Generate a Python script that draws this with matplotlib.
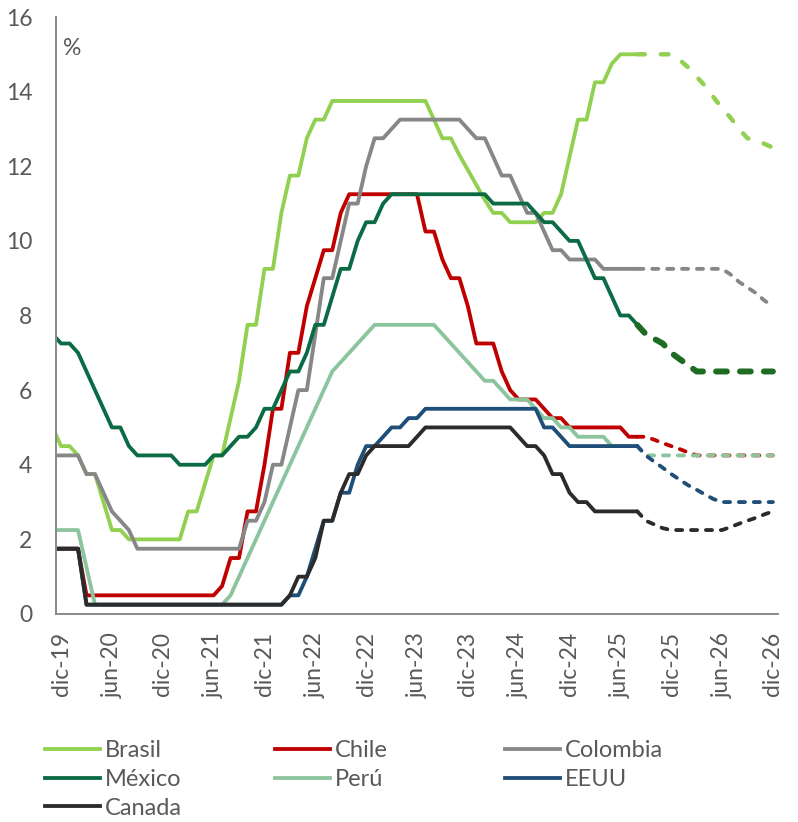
import numpy as np
import pandas as pd
import matplotlib
matplotlib.use("Agg")
import matplotlib.pyplot as plt
from matplotlib.lines import Line2D

plt.rcParams["font.family"] = ["Lato", "DejaVu Sans"]

# =========================
# Datos: tasa de politica monetaria (%), fin de mes
# nov-19 ... dic-26, proyeccion despues de ago-25
# =========================
meses = pd.period_range("2019-11", "2026-12", freq="M")
ultimo_dato = pd.Period("2025-08", freq="M")

brasil = [5.0, 4.5,
          4.5, 4.25, 3.75, 3.75, 3.0, 2.25, 2.25, 2.0, 2.0, 2.0, 2.0, 2.0,
          2.0, 2.0, 2.75, 2.75, 3.5, 4.25, 4.25, 5.25, 6.25, 7.75, 7.75, 9.25,
          9.25, 10.75, 11.75, 11.75, 12.75, 13.25, 13.25, 13.75, 13.75, 13.75, 13.75, 13.75,
          13.75, 13.75, 13.75, 13.75, 13.75, 13.75, 13.75, 13.25, 12.75, 12.75, 12.3, 11.9,
          11.5, 11.1, 10.75, 10.75, 10.5, 10.5, 10.5, 10.5, 10.75, 10.75, 11.25, 12.25,
          13.25, 13.25, 14.25, 14.25, 14.75, 15.0, 15.0, 15.0, 15.0, 15.0, 15.0, 15.0,
          14.85, 14.65, 14.4, 14.15, 13.85, 13.55, 13.3, 13.0, 12.75, 12.7, 12.6, 12.5]

chile = [1.75, 1.75,
         1.75, 1.75, 0.5, 0.5, 0.5, 0.5, 0.5, 0.5, 0.5, 0.5, 0.5, 0.5,
         0.5, 0.5, 0.5, 0.5, 0.5, 0.5, 0.75, 1.5, 1.5, 2.75, 2.75, 4.0,
         5.5, 5.5, 7.0, 7.0, 8.25, 9.0, 9.75, 9.75, 10.75, 11.25, 11.25, 11.25,
         11.25, 11.25, 11.25, 11.25, 11.25, 11.25, 10.25, 10.25, 9.5, 9.0, 9.0, 8.25,
         7.25, 7.25, 7.25, 6.5, 6.0, 5.75, 5.75, 5.75, 5.5, 5.25, 5.25, 5.0,
         5.0, 5.0, 5.0, 5.0, 5.0, 5.0, 4.75, 4.75, 4.75, 4.67, 4.58, 4.5,
         4.42, 4.33, 4.25, 4.25, 4.25, 4.25, 4.25, 4.25, 4.25, 4.25, 4.25, 4.25]

colombia = [4.25, 4.25,
            4.25, 4.25, 3.75, 3.75, 3.25, 2.75, 2.5, 2.25, 1.75, 1.75, 1.75, 1.75,
            1.75, 1.75, 1.75, 1.75, 1.75, 1.75, 1.75, 1.75, 1.75, 2.5, 2.5, 3.0,
            4.0, 4.0, 5.0, 6.0, 6.0, 7.5, 9.0, 9.0, 10.0, 11.0, 11.0, 12.0,
            12.75, 12.75, 13.0, 13.25, 13.25, 13.25, 13.25, 13.25, 13.25, 13.25, 13.25, 13.0,
            12.75, 12.75, 12.25, 11.75, 11.75, 11.25, 10.75, 10.75, 10.25, 9.75, 9.75, 9.5,
            9.5, 9.5, 9.5, 9.25, 9.25, 9.25, 9.25, 9.25, 9.25, 9.25, 9.25, 9.25,
            9.25, 9.25, 9.25, 9.25, 9.25, 9.25, 9.1, 8.9, 8.75, 8.6, 8.4, 8.25]

mexico = [7.5, 7.25,
          7.25, 7.0, 6.5, 6.0, 5.5, 5.0, 5.0, 4.5, 4.25, 4.25, 4.25, 4.25,
          4.25, 4.0, 4.0, 4.0, 4.0, 4.25, 4.25, 4.5, 4.75, 4.75, 5.0, 5.5,
          5.5, 6.0, 6.5, 6.5, 7.0, 7.75, 7.75, 8.5, 9.25, 9.25, 10.0, 10.5,
          10.5, 11.0, 11.25, 11.25, 11.25, 11.25, 11.25, 11.25, 11.25, 11.25, 11.25, 11.25,
          11.25, 11.25, 11.0, 11.0, 11.0, 11.0, 11.0, 10.75, 10.5, 10.5, 10.25, 10.0,
          10.0, 9.5, 9.0, 9.0, 8.5, 8.0, 8.0, 7.75, 7.5, 7.375, 7.25, 7.0,
          6.83, 6.67, 6.5, 6.5, 6.5, 6.5, 6.5, 6.5, 6.5, 6.5, 6.5, 6.5]

peru = [2.25, 2.25,
        2.25, 2.25, 1.25, 0.25, 0.25, 0.25, 0.25, 0.25, 0.25, 0.25, 0.25, 0.25,
        0.25, 0.25, 0.25, 0.25, 0.25, 0.25, 0.25, 0.5, 1.0, 1.5, 2.0, 2.5,
        3.0, 3.5, 4.0, 4.5, 5.0, 5.5, 6.0, 6.5, 6.75, 7.0, 7.25, 7.5,
        7.75, 7.75, 7.75, 7.75, 7.75, 7.75, 7.75, 7.75, 7.5, 7.25, 7.0, 6.75,
        6.5, 6.25, 6.25, 6.0, 5.75, 5.75, 5.75, 5.5, 5.25, 5.25, 5.0, 5.0,
        4.75, 4.75, 4.75, 4.75, 4.5, 4.5, 4.5, 4.5, 4.25, 4.25, 4.25, 4.25,
        4.25, 4.25, 4.25, 4.25, 4.25, 4.25, 4.25, 4.25, 4.25, 4.25, 4.25, 4.25]

eeuu = [1.75, 1.75,
        1.75, 1.75, 0.25, 0.25, 0.25, 0.25, 0.25, 0.25, 0.25, 0.25, 0.25, 0.25,
        0.25, 0.25, 0.25, 0.25, 0.25, 0.25, 0.25, 0.25, 0.25, 0.25, 0.25, 0.25,
        0.25, 0.25, 0.5, 0.5, 1.0, 1.75, 2.5, 2.5, 3.25, 3.25, 4.0, 4.5,
        4.5, 4.75, 5.0, 5.0, 5.25, 5.25, 5.5, 5.5, 5.5, 5.5, 5.5, 5.5,
        5.5, 5.5, 5.5, 5.5, 5.5, 5.5, 5.5, 5.5, 5.0, 5.0, 4.75, 4.5,
        4.5, 4.5, 4.5, 4.5, 4.5, 4.5, 4.5, 4.5, 4.25, 4.08, 3.92, 3.75,
        3.6, 3.45, 3.33, 3.2, 3.08, 3.0, 3.0, 3.0, 3.0, 3.0, 3.0, 3.0]

canada = [1.75, 1.75,
          1.75, 1.75, 0.25, 0.25, 0.25, 0.25, 0.25, 0.25, 0.25, 0.25, 0.25, 0.25,
          0.25, 0.25, 0.25, 0.25, 0.25, 0.25, 0.25, 0.25, 0.25, 0.25, 0.25, 0.25,
          0.25, 0.25, 0.5, 1.0, 1.0, 1.5, 2.5, 2.5, 3.25, 3.75, 3.75, 4.25,
          4.5, 4.5, 4.5, 4.5, 4.5, 4.75, 5.0, 5.0, 5.0, 5.0, 5.0, 5.0,
          5.0, 5.0, 5.0, 5.0, 5.0, 4.75, 4.5, 4.5, 4.25, 3.75, 3.75, 3.25,
          3.0, 3.0, 2.75, 2.75, 2.75, 2.75, 2.75, 2.75, 2.5, 2.4, 2.3, 2.25,
          2.25, 2.25, 2.25, 2.25, 2.25, 2.25, 2.33, 2.42, 2.5, 2.58, 2.67, 2.75]

tick_labels = ["dic-19", "jun-20", "dic-20", "jun-21", "dic-21", "jun-22", "dic-22",
               "jun-23", "dic-23", "jun-24", "dic-24", "jun-25", "dic-25", "jun-26", "dic-26"]
y_ticks = [0, 2, 4, 6, 8, 10, 12, 14, 16]

# =========================
# Estilos
# =========================
GRIS_TXT = "#595959"
GRIS_EJE = "#898989"
LW = 2.75
DASH = (1.6, 2.3)
FS_TICKS = 16.5
FS_LEY = 17

series = [
    ("Brasil", brasil, "#92D050", None, 3.2, (1.7, 3.6)),
    ("Chile", chile, "#C00000", None, LW, DASH),
    ("Colombia", colombia, "#878787", None, LW, DASH),
    ("México", mexico, "#0B6B45", "#1E6B24", 4.3, (1.8, 2.2)),
    ("Perú", peru, "#8CC49E", None, LW, DASH),
    ("EEUU", eeuu, "#1F4E79", None, LW, DASH),
    ("Canada", canada, "#2B2B2B", None, LW, DASH),
]

x = np.array([(p - pd.Period("2019-12", freq="M")).n for p in meses])
real = np.asarray(meses <= ultimo_dato)
proy = np.asarray(meses >= ultimo_dato)

fig = plt.figure(figsize=(7.98, 8.22), dpi=100)
ax = fig.add_axes([56 / 798, 1 - 614 / 822, 722 / 798, 597 / 822])

for nombre, valores, color, color_proy, lw_proy, dash in series:
    y = np.array(valores)
    ax.plot(x[real], y[real], color=color, lw=LW,
            solid_capstyle="round", solid_joinstyle="round")
    ax.plot(x[proy], y[proy], color=color_proy or color, lw=lw_proy,
            linestyle=(0, dash), dash_capstyle="round", dash_joinstyle="round")

ax.set_xlim(-0.6, 84.6)
ax.set_ylim(0, 16)

pos_ticks = [x[i] for i, p in enumerate(meses)
             if p.month in (6, 12) and p >= pd.Period("2019-12", freq="M")]
ax.set_xticks(pos_ticks)
ax.set_xticklabels(tick_labels, rotation=90)
ax.set_yticks(y_ticks)
ax.set_yticklabels([str(v) for v in y_ticks])
ax.tick_params(axis="both", length=0, labelsize=FS_TICKS, labelcolor=GRIS_TXT)
ax.tick_params(axis="x", pad=13)
ax.tick_params(axis="y", pad=17)

for lado in ["top", "right"]:
    ax.spines[lado].set_visible(False)
for lado in ["left", "bottom"]:
    ax.spines[lado].set_color(GRIS_EJE)
    ax.spines[lado].set_linewidth(1.4)

ax.text(0.01, 0.948, "%", transform=ax.transAxes, fontsize=FS_TICKS,
        color=GRIS_TXT, ha="left", va="center")

# =========================
# Leyenda (3 columnas)
# =========================
columnas = [["Brasil", "México", "Canada"], ["Chile", "Perú"], ["Colombia", "EEUU"]]
x_col = [45, 275, 505]
colores = {s[0]: s[2] for s in series}
for xc, nombres in zip(x_col, columnas):
    handles = [Line2D([0], [0], color=colores[n], lw=LW) for n in nombres]
    leg = fig.legend(handles, nombres, loc="upper left",
                     bbox_to_anchor=(xc / 798, 1 - 740 / 822),
                     frameon=False, fontsize=FS_LEY, handlelength=2.33,
                     handletextpad=0.21, labelspacing=0.33,
                     borderpad=0, borderaxespad=0)
    for t in leg.get_texts():
        t.set_color(GRIS_TXT)

fig.savefig("out.png", dpi=100)
